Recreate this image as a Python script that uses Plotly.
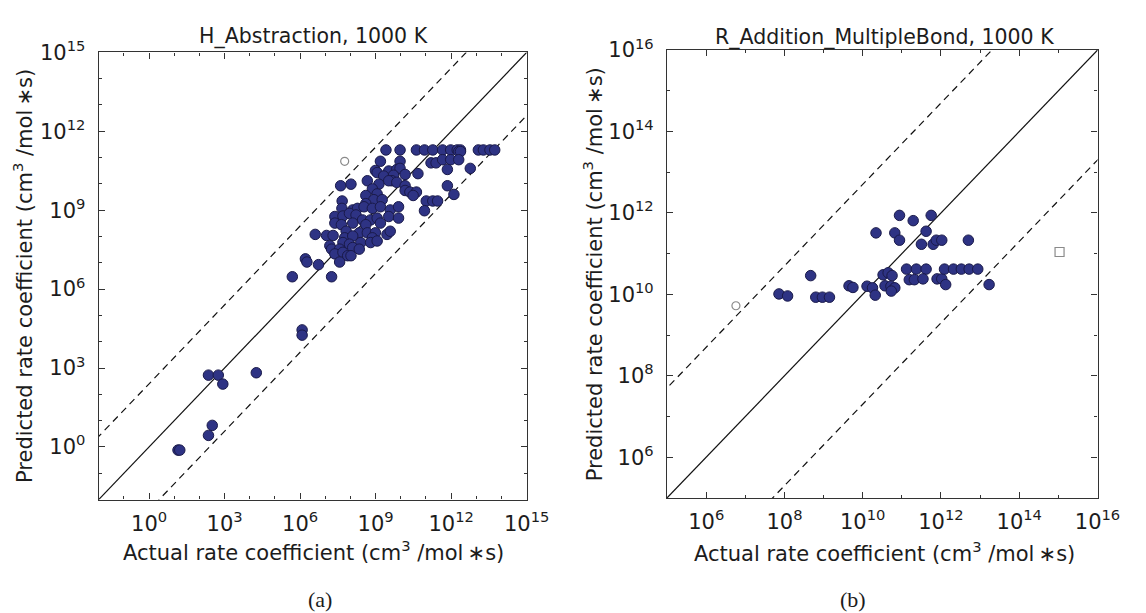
import numpy as np
import plotly.graph_objects as go

# ---------------- data (log10 of rate coefficients) -------------
# Panel (a): H_Abstraction, 1000 K
a_actual_log = [
    9.41, 9.97, 10.62, 10.94, 11.27, 11.66, 11.98, 12.24, 12.37, 13.08, 13.28, 13.54, 13.73,
    12.30, 12.37,
    9.19, 9.97, 11.20, 11.40, 11.66, 11.98, 12.30,
    8.99, 9.52, 9.84, 9.97, 11.85, 12.76, 9.06,
    9.32, 9.71, 10.17, 10.68, 9.65,
    7.61, 8.02, 8.67, 9.13, 9.52, 9.84, 10.17, 11.85,
    8.87, 8.61, 9.06, 10.17, 10.36, 10.62, 10.49, 12.11,
    7.67, 8.93, 9.26, 11.01, 11.27, 11.46, 8.61,
    7.66, 8.09, 8.28, 8.54, 8.87, 9.19, 9.58, 9.91, 10.94,
    7.38, 7.70, 7.96, 8.22, 8.48, 8.80, 9.06, 9.52, 9.91, 7.38, 7.64, 8.09, 9.19, 8.61,
    6.60, 7.05, 7.31, 7.83, 8.35, 8.67, 8.99, 9.45, 9.58, 7.77, 8.09, 8.87,
    7.18, 7.70, 7.96, 8.41, 8.80, 9.06, 7.25, 7.57, 8.09, 8.35,
    7.38, 7.70, 7.89, 6.21, 6.27, 6.73, 7.57, 8.02,
    5.69, 7.25,
    6.08, 6.08, 2.36, 2.75, 2.93, 4.26, 2.51, 2.36, 1.15, 1.22,
]
a_pred_log = [
    11.29, 11.29, 11.29, 11.29, 11.29, 11.29, 11.29, 11.29, 11.29, 11.29, 11.29, 11.29, 11.29,
    11.23, 11.23,
    10.86, 10.86, 10.80, 10.80, 10.92, 10.92, 10.92,
    10.51, 10.49, 10.55, 10.59, 10.55, 10.59, 10.43,
    10.30, 10.33, 10.36, 10.39, 10.12,
    9.93, 9.99, 10.12, 9.99, 10.12, 10.06, 9.93, 9.93,
    9.81, 9.56, 9.62, 9.75, 9.69, 9.69, 9.56, 9.60,
    9.35, 9.40, 9.40, 9.35, 9.35, 9.35, 9.25,
    9.07, 9.01, 9.07, 9.13, 9.07, 9.13, 9.01, 9.13, 8.98,
    8.76, 8.78, 8.88, 8.82, 8.63, 8.63, 8.70, 8.76, 8.70, 8.51, 8.45, 8.51, 8.51, 8.45,
    8.08, 8.04, 8.04, 8.20, 8.14, 8.14, 8.14, 8.08, 8.20, 7.95, 8.02, 7.95,
    7.65, 7.77, 7.71, 7.77, 7.77, 7.83, 7.52, 7.52, 7.58, 7.52,
    7.34, 7.40, 7.27, 7.15, 7.03, 6.93, 7.03, 7.27,
    6.47, 6.47,
    4.45, 4.25, 2.73, 2.73, 2.39, 2.82, 0.82, 0.44, -0.12, -0.12,
]
a_open_actual_log = [7.77]
a_open_pred_log = [10.86]

# Panel (b): R_Addition_MultipleBond, 1000 K
b_actual_log = [
    7.86, 8.08, 8.67, 8.80, 8.97, 9.15, 9.65, 9.75,
    10.11, 10.25, 10.32, 10.34, 10.52, 10.65, 10.75,
    10.57, 10.72, 10.82, 10.73, 10.82, 10.94, 10.94,
    11.12, 11.37, 11.62, 11.19, 11.32, 11.54, 11.29,
    11.50, 11.62, 11.75, 11.80, 11.88, 12.02,
    11.90, 12.02, 12.12, 12.09, 12.32, 12.52, 12.72, 12.94,
    12.70, 13.23,
]
b_pred_log = [
    10.01, 9.96, 10.46, 9.93, 9.93, 9.93, 10.21, 10.17,
    10.20, 10.16, 9.98, 11.51, 10.48, 10.53, 10.46,
    10.21, 10.20, 10.16, 10.08, 11.51, 11.33, 11.94,
    10.62, 10.62, 10.62, 10.36, 10.36, 10.38, 11.81,
    11.23, 11.55, 11.94, 11.23, 11.33, 11.33,
    10.38, 10.38, 10.24, 10.62, 10.62, 10.62, 10.62, 10.62,
    11.33, 10.24,
]
b_open_actual_log = [6.76]
b_open_pred_log = [9.72]
b_square_actual_log = [15.03]
b_square_pred_log = [11.04]

# axes (log10 decades), factor bands and tick exponents
a_range_log = [-2, 15]
b_range_log = [5, 16]
a_band_log = 2.4
b_band_log = 2.7
a_tick_exp = [0, 3, 6, 9, 12, 15]
b_tick_exp = [6, 8, 10, 12, 14, 16]
a_title = "H_Abstraction, 1000 K"
b_title = "R_Addition_MultipleBond, 1000 K"
x_label = "Actual rate coefficient (cm<sup>3</sup> /mol\u2009\u2217s)"
y_label = "Predicted rate coefficient (cm<sup>3</sup> /mol\u2009\u2217s)"
panel_labels = ["(a)", "(b)"]

# ---------------- styling ----------------
FONT = "DejaVu Sans"
INK = "#1c1c1c"
FILL = "#2e3384"
EDGE = "#1a1a4a"


def p10(v):
    return [10.0 ** x for x in v]


fig = go.Figure()


def add_panel(xa, ya, act, pred, rng, band):
    lo, hi = rng
    # parity line and factor bands (computed from the axis range)
    line_x = np.array([lo - band, hi + band], dtype=float)
    fig.add_trace(go.Scatter(x=10 ** line_x, y=10 ** line_x, mode="lines",
                             line=dict(color="#111111", width=1.2),
                             xaxis=xa, yaxis=ya, showlegend=False, hoverinfo="skip"))
    for off in (band, -band):
        fig.add_trace(go.Scatter(x=10 ** line_x, y=10 ** (line_x + off), mode="lines",
                                 line=dict(color="#111111", width=1.2, dash="7px,5px"),
                                 xaxis=xa, yaxis=ya, showlegend=False, hoverinfo="skip"))
    fig.add_trace(go.Scatter(x=p10(act), y=p10(pred), mode="markers",
                             marker=dict(size=10.5, color=FILL,
                                         line=dict(color=EDGE, width=1)),
                             xaxis=xa, yaxis=ya, showlegend=False))


add_panel("x", "y", a_actual_log, a_pred_log, a_range_log, a_band_log)
fig.add_trace(go.Scatter(x=p10(a_open_actual_log), y=p10(a_open_pred_log), mode="markers",
                         marker=dict(size=8, symbol="circle-open", color="#8a8a8a",
                                     line=dict(width=1.2)),
                         xaxis="x", yaxis="y", showlegend=False))
add_panel("x2", "y2", b_actual_log, b_pred_log, b_range_log, b_band_log)
fig.add_trace(go.Scatter(x=p10(b_open_actual_log), y=p10(b_open_pred_log), mode="markers",
                         marker=dict(size=8, symbol="circle-open", color="#8a8a8a",
                                     line=dict(width=1.2)),
                         xaxis="x2", yaxis="y2", showlegend=False))
fig.add_trace(go.Scatter(x=p10(b_square_actual_log), y=p10(b_square_pred_log), mode="markers",
                         marker=dict(size=9, symbol="square-open", color="#8a8a8a",
                                     line=dict(width=1.2)),
                         xaxis="x2", yaxis="y2", showlegend=False))


def axis(rng, tick_exp, domain, anchor, is_x):
    lo, hi = rng
    d = dict(type="log", range=[lo, hi], domain=domain, anchor=anchor,
             showgrid=False, zeroline=False,
             showline=True, linecolor="#333333", linewidth=1.3, mirror="allticks",
             ticks="inside", ticklen=6, tickwidth=1, tickcolor="#333333",
             tickmode="array",
             tickvals=[10.0 ** e for e in tick_exp],
             ticktext=["10<sup>%d</sup>" % e for e in tick_exp],
             tickfont=dict(family=FONT, size=21, color=INK),
             minor=dict(ticks="inside", ticklen=3, tickwidth=1, tickcolor="#333333",
                        tickvals=[10.0 ** e for e in range(int(lo), int(hi) + 1)]),
             ticklabelstandoff=5 if is_x else 8)
    return d


fig.update_layout(
    width=1146, height=613,
    margin=dict(l=0, r=0, t=0, b=0),
    paper_bgcolor="white", plot_bgcolor="white",
    font=dict(family=FONT, color=INK),
    xaxis=axis(a_range_log, a_tick_exp, [0.0879, 0.4690], "y", True),
    yaxis=axis(a_range_log, a_tick_exp, [0.1897, 0.9375], "x", False),
    xaxis2=axis(b_range_log, b_tick_exp, [0.5940, 0.9773], "y2", True),
    yaxis2=axis(b_range_log, b_tick_exp, [0.1925, 0.9413], "x2", False),
)

ann = []
W, H = 1146.0, 613.0


def A(text, x, y, size, angle=0, family=FONT):
    ann.append(dict(text=text, x=x / W, y=1 - y / H, xref="paper", yref="paper",
                    xanchor="center", yanchor="middle", showarrow=False, textangle=angle,
                    font=dict(family=family, size=size, color=INK)))


A(a_title, 320, 22, 20.5)
A(b_title, 903, 23, 20.5)
A(x_label, 320, 549, 21)
A(x_label, 903, 550, 21)
A(y_label, 24, 268, 21, angle=-90)
A(y_label, 606, 266, 21, angle=-90)
A(panel_labels[0], 327, 599, 22, family="Liberation Serif")
A(panel_labels[1], 870, 599, 22, family="Liberation Serif")
fig.update_layout(annotations=ann)

fig.write_html("out.html")
